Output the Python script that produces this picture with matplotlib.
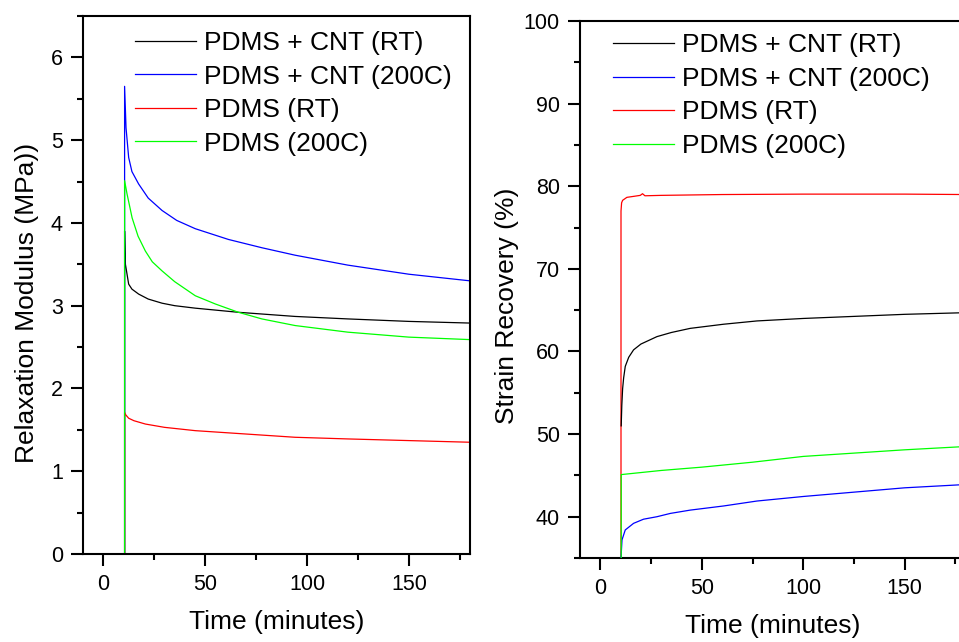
import matplotlib
matplotlib.use('Agg')
import matplotlib.pyplot as plt
from matplotlib.ticker import MultipleLocator

plt.rcParams['font.family'] = ['Liberation Sans', 'DejaVu Sans']

# series names (same in both panels)
labels = ['PDMS + CNT (RT)', 'PDMS + CNT (200C)', 'PDMS (RT)', 'PDMS (200C)']
colors = ['black', 'blue', 'red', '#00ff00']

# left panel: relaxation modulus (MPa) vs time (minutes)
relax_cnt_rt_t = [10.4, 10.4, 10.8, 12.4, 14, 17.3, 22, 28.8, 35, 45.1, 66.3, 94.1, 120, 150, 180]
relax_cnt_rt = [0, 3.90, 3.50, 3.26, 3.20, 3.14, 3.08, 3.03, 3.00, 2.97, 2.92, 2.87, 2.84, 2.81, 2.79]
relax_cnt_200_t = [10.4, 10.4, 11.1, 12.4, 14, 17.3, 22, 28.8, 36, 45.1, 61.4, 77.8, 94.1, 120, 150, 180]
relax_cnt_200 = [0, 5.65, 5.15, 4.79, 4.62, 4.47, 4.30, 4.15, 4.03, 3.93, 3.80, 3.70, 3.61, 3.49, 3.38, 3.30]
relax_pdms_rt_t = [10.4, 10.4, 11, 12.4, 15, 20.6, 30, 45.1, 69.6, 94.1, 120, 150, 180]
relax_pdms_rt = [0, 1.71, 1.68, 1.64, 1.61, 1.57, 1.53, 1.49, 1.45, 1.41, 1.39, 1.37, 1.35]
relax_pdms_200_t = [10.4, 10.4, 11.6, 14.1, 17, 20.6, 24, 28.8, 35, 45.1, 55, 66.3, 77.8, 94.1, 120, 150, 180]
relax_pdms_200 = [0, 4.51, 4.35, 4.06, 3.84, 3.66, 3.53, 3.42, 3.29, 3.12, 3.02, 2.92, 2.84, 2.76, 2.68, 2.62, 2.59]

# right panel: strain recovery (%) vs time (minutes)
rec_cnt_rt_t = [10.3, 10.6, 11.0, 11.5, 12.3, 14, 16.4, 20, 27.9, 35, 44.3, 60.7, 77.2, 100, 150, 180]
rec_cnt_rt = [51.0, 53.5, 55.5, 56.8, 58.2, 59.3, 60.2, 60.9, 61.8, 62.3, 62.8, 63.3, 63.7, 64.0, 64.5, 64.7]
rec_cnt_200_t = [10.2, 10.7, 12.3, 16.4, 21.3, 27.9, 34.5, 44.3, 60.7, 77.2, 100, 150, 180]
rec_cnt_200 = [35, 37.2, 38.4, 39.2, 39.7, 40.0, 40.4, 40.8, 41.3, 41.9, 42.45, 43.5, 43.9]
rec_pdms_rt_t = [10.2, 10.2, 10.5, 11, 13.1, 17, 19.7, 20.8, 22, 30, 60, 100, 150, 180]
rec_pdms_rt = [35, 77.0, 78.0, 78.3, 78.66, 78.8, 78.9, 79.1, 78.85, 78.9, 79.0, 79.05, 79.05, 79.0]
rec_pdms_200_t = [10.3, 10.3, 30, 50, 75, 100, 150, 180]
rec_pdms_200 = [35, 45.1, 45.6, 46.0, 46.6, 47.3, 48.1, 48.5]

fig = plt.figure(figsize=(9.59, 6.42), dpi=100)
ax1 = fig.add_axes([0.0866, 0.1371, 0.4035, 0.838])
ax2 = fig.add_axes([0.6048, 0.1308, 0.4021, 0.8364])

left_series = [(relax_cnt_rt_t, relax_cnt_rt), (relax_cnt_200_t, relax_cnt_200),
               (relax_pdms_rt_t, relax_pdms_rt), (relax_pdms_200_t, relax_pdms_200)]
right_series = [(rec_cnt_rt_t, rec_cnt_rt), (rec_cnt_200_t, rec_cnt_200),
                (rec_pdms_rt_t, rec_pdms_rt), (rec_pdms_200_t, rec_pdms_200)]
right_z = [3, 3, 2, 4]

for (t, v), lab, c in zip(left_series, labels, colors):
    ax1.plot(t, v, color=c, lw=0.9, label=lab)
for (t, v), lab, c, z in zip(right_series, labels, colors, right_z):
    ax2.plot(t, v, color=c, lw=0.9, label=lab, zorder=z)

ax1.set_xlim(-10, 180)
ax1.set_ylim(0, 6.5)
ax1.yaxis.set_major_locator(MultipleLocator(1))
ax1.yaxis.set_minor_locator(MultipleLocator(0.5))
ax1.set_ylabel('Relaxation Modulus (MPa))', fontsize=19)
ax1.yaxis.set_label_coords(-0.115, 0.467)

ax2.set_xlim(-10, 180)
ax2.set_ylim(35, 100)
ax2.yaxis.set_major_locator(MultipleLocator(10))
ax2.yaxis.set_minor_locator(MultipleLocator(5))
ax2.set_ylabel('Strain Recovery (%)', fontsize=19)
ax2.yaxis.set_label_coords(-0.158, 0.469)

legend_x = {ax1: (0.134, 0.972), ax2: (0.0856, 0.977)}

for ax in (ax1, ax2):
    ax.xaxis.set_major_locator(MultipleLocator(50))
    ax.xaxis.set_minor_locator(MultipleLocator(25))
    ax.set_xlabel('Time (minutes)', fontsize=19)
    ax.xaxis.set_label_coords(0.5, -0.105)
    ax.tick_params(which='both', direction='out', top=False, right=False,
                   labelsize=15.5, width=1.5)
    ax.tick_params(which='major', length=8.5, pad=6)
    ax.tick_params(which='minor', length=4.5)
    for s in ax.spines.values():
        s.set_linewidth(1.5)
    ax.legend(loc='upper left', bbox_to_anchor=legend_x[ax],
              frameon=False, fontsize=19, handlelength=2.3, handletextpad=0.3,
              labelspacing=0.36, borderpad=0, borderaxespad=0)

fig.savefig('out.png', dpi=100)
